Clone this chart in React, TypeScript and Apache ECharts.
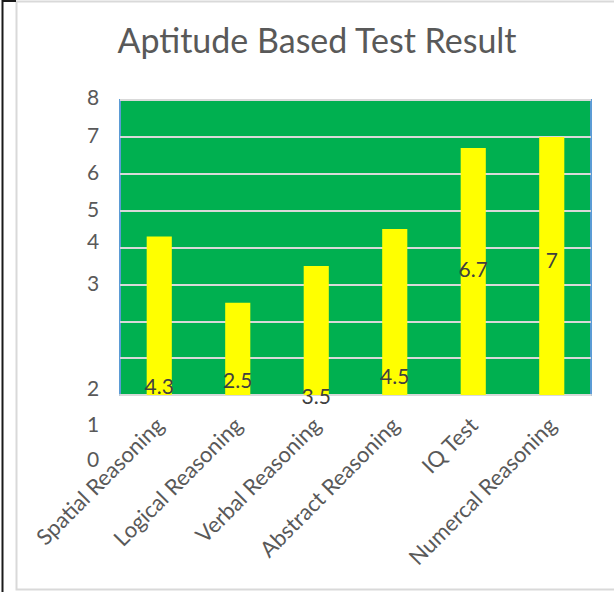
import React, { useEffect, useRef } from "react";
import * as echarts from "echarts";

const categories = [
  "Spatial Reasoning",
  "Logical Reasoning",
  "Verbal Reasoning",
  "Abstract Reasoning",
  "IQ Test",
  "Numercal Reasoning",
];
const scores = [4.3, 2.5, 3.5, 4.5, 6.7, 7];
const yTickLabels = ["8", "7", "6", "5", "4", "3", "2", "1", "0"];

// layout only (pixels)
const yTickLabelY = [96, 134, 171, 208, 240, 282, 387, 423, 458];
const valueLabelOffsets = [-10, -16, 0.5, -19.5, -126.5, -136];

const FONT = "Lato, 'Open Sans', sans-serif";
const GREY_TEXT = "#595959";

export default function App() {
  const ref = useRef<HTMLDivElement>(null);
  useEffect(() => {
    if (!ref.current) return;
    const chart = echarts.init(ref.current, null, { renderer: "svg" });
    const graphics: any[] = [
      {
        type: "rect",
        shape: { x: 16.5, y: 1.5, width: 600, height: 588 },
        style: { fill: "none", stroke: "#d9d9d9", lineWidth: 2 },
        silent: true,
      },
      {
        type: "line",
        shape: { x1: 2.5, y1: 0, x2: 2.5, y2: 592 },
        style: { stroke: "#1a1a1a", lineWidth: 2 },
        silent: true,
      },
      {
        type: "line",
        shape: { x1: 2, y1: 1, x2: 16, y2: 1 },
        style: { stroke: "#1a1a1a", lineWidth: 2 },
        silent: true,
      },
      ...yTickLabels.map((t, i) => ({
        type: "text",
        x: 93,
        y: yTickLabelY[i],
        style: {
          text: t,
          fill: GREY_TEXT,
          font: `21px ${FONT}`,
          align: "center",
          verticalAlign: "middle",
        },
        silent: true,
      })),
    ];
    chart.setOption({
      animation: false,
      title: {
        text: "Aptitude Based Test Result",
        left: 312,
        top: 17,
        textAlign: "center",
        textStyle: {
          fontFamily: FONT,
          fontSize: 34,
          fontWeight: "normal",
          color: GREY_TEXT,
        },
      },
      grid: {
        left: 120,
        top: 100,
        right: 23,
        bottom: 197,
        show: true,
        backgroundColor: "#00B050",
        borderColor: "#5B9BD5",
        borderWidth: 2,
      },
      xAxis: {
        type: "category",
        data: categories,
        axisTick: { show: false },
        axisLine: { show: true, lineStyle: { color: "#d9d9d9", width: 2 } },
        axisLabel: {
          rotate: 45,
          interval: 0,
          margin: 26,
          fontFamily: FONT,
          fontSize: 22,
          color: GREY_TEXT,
        },
      },
      yAxis: {
        type: "value",
        min: 0,
        max: 8,
        interval: 1,
        axisLabel: { show: false },
        axisLine: { show: false },
        axisTick: { show: false },
        splitLine: { show: true, lineStyle: { color: "#d9d9d9", width: 2 } },
      },
      series: [
        {
          type: "bar",
          barWidth: "32%",
          itemStyle: { color: "#FFFF00" },
          data: scores.map((v, i) => ({
            value: v,
            label: { offset: [0, valueLabelOffsets[i]] },
          })),
          label: {
            show: true,
            position: "insideBottom",
            distance: 0,
            verticalAlign: "middle",
            fontFamily: FONT,
            fontSize: 21,
            color: "#404040",
          },
          z: 3,
        },
      ],
      graphic: graphics,
    });
    return () => chart.dispose();
  }, []);
  return (
    <div
      ref={ref}
      style={{ position: "fixed", left: 0, top: 0, width: 614, height: 592, background: "#fff" }}
    />
  );
}
